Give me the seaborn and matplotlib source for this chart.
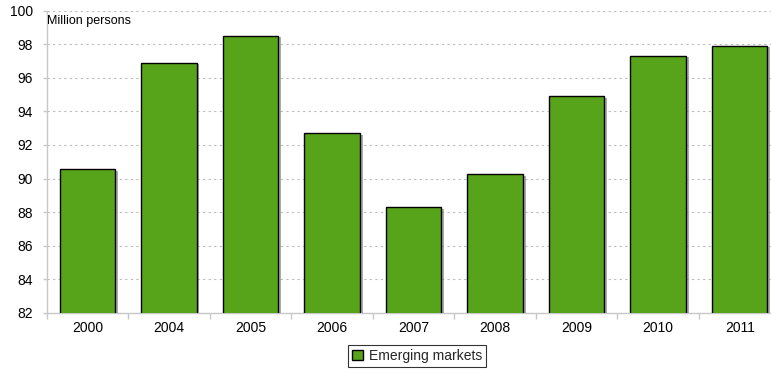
import matplotlib
matplotlib.use("Agg")
import matplotlib.pyplot as plt
import matplotlib.patheffects as pe
from matplotlib.patches import Patch
import seaborn as sns
import pandas as pd

years = ["2000", "2004", "2005", "2006", "2007", "2008", "2009", "2010", "2011"]
persons = [90.55, 96.9, 98.5, 92.7, 88.3, 90.25, 94.9, 97.3, 97.9]
series_name = "Emerging markets"
y_ticks = [82, 84, 86, 88, 90, 92, 94, 96, 98, 100]

sns.set_theme(style="white")
plt.rcParams["font.family"] = ["Liberation Sans", "DejaVu Sans"]

df = pd.DataFrame({"year": years, "value": persons})

fig = plt.figure(figsize=(7.71, 3.70), dpi=100)
ax = fig.add_axes([46.7 / 771, 1 - 313 / 370, (780.5 - 46.7) / 771, (313 - 10.5) / 370])

bar_color = "#57a31a"
sns.barplot(data=df, x="year", y="value", color=bar_color, saturation=1,
            width=0.68, edgecolor="black", linewidth=1.0, ax=ax, zorder=3)
for p in ax.patches:
    p.set_path_effects([pe.SimplePatchShadow(offset=(2, -1), shadow_rgbFace="0.45", alpha=0.6),
                        pe.Normal()])

ax.set_ylim(82, 100)
ax.set_yticks(y_ticks)
ax.set_xlim(-0.5, len(years) - 0.5)
ax.set_xlabel("")
ax.set_ylabel("")

ax.yaxis.grid(True, linestyle=(0, (2, 3)), color="#bbbbbb", linewidth=0.8, zorder=0)
ax.xaxis.grid(False)
ax.set_axisbelow(True)

for side in ["top", "right"]:
    ax.spines[side].set_visible(False)
for side in ["left", "bottom"]:
    ax.spines[side].set_color("#c8c8c8")
    ax.spines[side].set_linewidth(1.0)

# category boundary ticks on the x axis
ax.set_xticks([i - 0.5 for i in range(len(years) + 1)], minor=True)
ax.tick_params(axis="x", which="minor", length=4, color="#c8c8c8", width=1, direction="out", bottom=True)
ax.tick_params(axis="x", which="major", length=0, labelsize=10, pad=6, labelcolor="black")
ax.tick_params(axis="y", which="major", length=3, color="#c8c8c8", width=1, left=True,
               labelsize=10, pad=7, labelcolor="black")

ax.text(0.0, 0.985, "Million persons", transform=ax.transAxes, fontsize=9,
        ha="left", va="top", color="black")

handle = Patch(facecolor=bar_color, edgecolor="black", linewidth=1.0)
leg = fig.legend([handle], [series_name], loc="center", bbox_to_anchor=(417 / 771, 1 - 356 / 370),
                 frameon=True, fancybox=False, fontsize=10, handlelength=0.8, handleheight=0.8,
                 handletextpad=0.4, borderpad=0.3, borderaxespad=0)
leg.get_frame().set_edgecolor("black")
leg.get_frame().set_linewidth(0.8)

fig.savefig("out.png", dpi=100)
